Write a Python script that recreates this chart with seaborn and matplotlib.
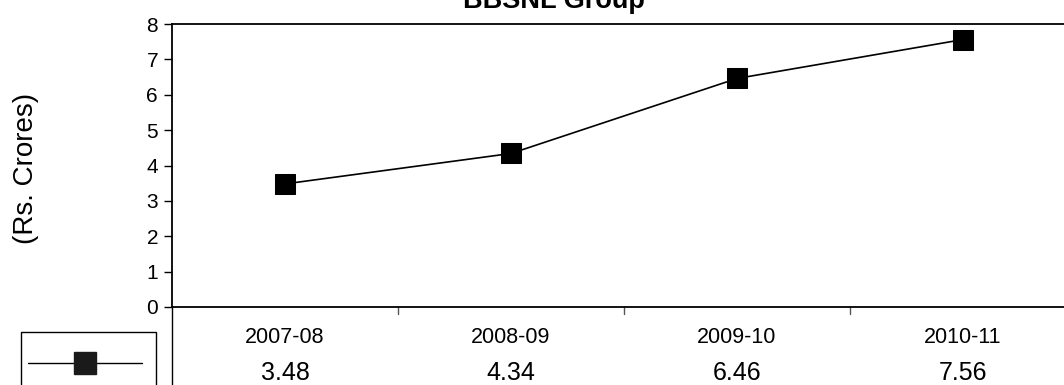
import matplotlib
matplotlib.use("Agg")
import matplotlib.pyplot as plt
import matplotlib.transforms as mtransforms
from matplotlib.lines import Line2D
from matplotlib.patches import Rectangle
import seaborn as sns
import pandas as pd

title = "BBSNL Group"
ylabel = "(Rs. Crores)"
categories = ["2007-08", "2008-09", "2009-10", "2010-11"]
values = [3.48, 4.34, 6.46, 7.56]
value_labels = ["3.48", "4.34", "6.46", "7.56"]
yticks = [0, 1, 2, 3, 4, 5, 6, 7, 8]

sns.set_style("white")
plt.rcParams["font.family"] = ["Liberation Sans", "DejaVu Sans"]

W, H = 1064, 385
fig = plt.figure(figsize=(W / 100, H / 100), dpi=100)
ax = fig.add_axes([172 / W, 1 - 307 / H, 904 / W, 283 / H])

df = pd.DataFrame({"cat": categories, "val": values})
sns.lineplot(data=df, x="cat", y="val", ax=ax, color="black", linewidth=1.2,
             marker="s", markersize=14.5, markerfacecolor="black",
             markeredgecolor="black", sort=False)

ax.set_xlim(-0.5, len(categories) - 0.5)
ax.set_ylim(0, 8)
ax.set_yticks(yticks)
ax.set_yticklabels([str(t) for t in yticks], fontsize=15)
ax.set_xticks([])
ax.set_xlabel("")
ax.set_ylabel("")
ax.tick_params(axis="y", direction="out", length=6, width=1, color="black",
               left=True, pad=4, labelcolor="black")
for side in ["left", "top", "bottom", "right"]:
    ax.spines[side].set_color("black")
    ax.spines[side].set_linewidth(1.3)

# data table below the axis
trans = mtransforms.blended_transform_factory(ax.transData, ax.transAxes)
for i, (c, v) in enumerate(zip(categories, value_labels)):
    ax.text(i, -0.1095, c, transform=trans, ha="center", va="center",
            fontsize=15.5, color="black")
    ax.text(i, -0.232, v, transform=trans, ha="center", va="center",
            fontsize=18, color="black")
for b in range(len(categories) - 1):
    ax.plot([b + 0.5, b + 0.5], [0, -0.025], transform=trans, color="#555555",
            lw=1, clip_on=False)
ax.plot([-0.5, -0.5], [0, -0.3], transform=trans, color="black", lw=1,
        clip_on=False)

# legend key box
fig.add_artist(Rectangle((21 / W, -0.05), 135 / W, 0.05 + (1 - 332 / H),
                         transform=fig.transFigure, fill=False,
                         edgecolor="black", lw=1))
fig.add_artist(Line2D([28 / W, 142 / W], [1 - 363 / H, 1 - 363 / H],
                      transform=fig.transFigure, color="black", lw=1))
fig.add_artist(Line2D([85 / W], [1 - 363 / H], transform=fig.transFigure,
                      marker="s", markersize=16, color="#1a1a1a", lw=0))

fig.text(554 / W, 1 - 7.5 / H, title, ha="center", va="baseline",
         fontsize=19.5, fontweight="bold", color="black")
fig.text(26 / W, 1 - 168 / H, ylabel, rotation=90, ha="center", va="center",
         fontsize=20, color="black")

fig.savefig("out.png", dpi=100)
